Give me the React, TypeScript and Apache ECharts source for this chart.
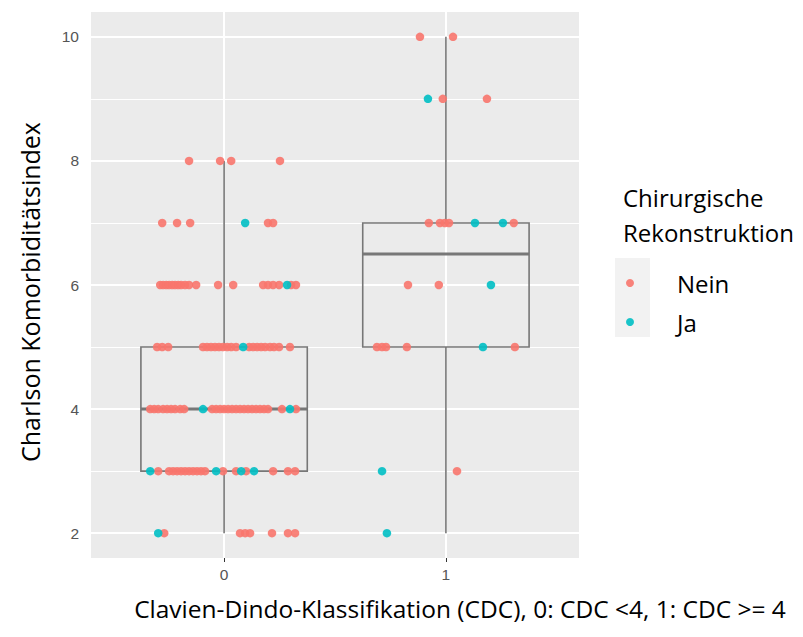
import React, { useEffect, useRef } from "react";
import * as echarts from "echarts";

const categories = ["0", "1"];
const yTicks = [2, 4, 6, 8, 10];
const yMinor = [3, 5, 7, 9];

// box stats: [x, lower whisker, Q1, median, Q3, upper whisker]
const boxStats = [
  [0, 2, 3, 4, 5, 8],
  [1, 2, 5, 6.5, 7, 10],
];

// jittered points [x, y]
const neinPoints = [
  // group 0
  [-0.158, 8], [-0.018, 8], [0.032, 8], [0.252, 8],
  [-0.279, 7], [-0.212, 7], [-0.153, 7], [0.198, 7], [0.221, 7],
  [-0.288, 6], [-0.275, 6], [-0.261, 6], [-0.248, 6], [-0.234, 6], [-0.221, 6], [-0.207, 6], [-0.194, 6], [-0.176, 6], [-0.158, 6], [-0.126, 6],
  [-0.027, 6], [0.041, 6], [0.176, 6], [0.198, 6], [0.221, 6], [0.248, 6], [0.302, 6], [0.324, 6],
  [-0.302, 5], [-0.279, 5], [-0.252, 5], [-0.095, 5], [-0.077, 5], [-0.059, 5], [-0.041, 5], [-0.023, 5], [-0.005, 5], [0.014, 5], [0.032, 5], [0.054, 5],
  [0.113, 5], [0.131, 5], [0.149, 5], [0.167, 5], [0.185, 5], [0.207, 5], [0.225, 5], [0.248, 5], [0.297, 5],
  [-0.333, 4], [-0.315, 4], [-0.297, 4], [-0.275, 4], [-0.257, 4], [-0.239, 4], [-0.221, 4], [-0.198, 4], [-0.18, 4],
  [-0.054, 4], [-0.036, 4], [-0.018, 4], [0, 4], [0.018, 4], [0.036, 4], [0.054, 4], [0.072, 4], [0.09, 4], [0.108, 4], [0.126, 4], [0.144, 4], [0.162, 4], [0.18, 4], [0.198, 4],
  [0.261, 4], [0.324, 4],
  [-0.297, 3], [-0.248, 3], [-0.23, 3], [-0.212, 3], [-0.194, 3], [-0.176, 3], [-0.158, 3], [-0.14, 3], [-0.122, 3], [-0.104, 3], [-0.086, 3],
  [-0.005, 3], [0.054, 3], [0.099, 3], [0.221, 3], [0.288, 3], [0.32, 3],
  [-0.27, 2], [0.072, 2], [0.095, 2], [0.117, 2], [0.216, 2], [0.288, 2], [0.32, 2],
  // group 1
  [0.883, 10], [1.032, 10],
  [0.986, 9], [1.185, 9],
  [0.923, 7], [0.973, 7], [0.995, 7], [1.014, 7], [1.306, 7],
  [0.829, 6], [0.968, 6],
  [0.689, 5], [0.712, 5], [0.73, 5], [0.824, 5], [1.311, 5],
  [1.05, 3],
];

const jaPoints = [
  // group 0
  [0.095, 7],
  [0.284, 6],
  [0.086, 5],
  [-0.095, 4], [0.297, 4],
  [-0.333, 3], [-0.036, 3], [0.077, 3], [0.135, 3],
  [-0.297, 2],
  // group 1
  [0.919, 9],
  [1.131, 7], [1.257, 7],
  [1.203, 6],
  [1.167, 5],
  [0.712, 3],
  [0.734, 2],
];

const seriesNames = ["Nein", "Ja"];
const legendTitle = "Chirurgische\nRekonstruktion";
const xTitle = "Clavien-Dindo-Klassifikation (CDC), 0: CDC <4, 1: CDC >= 4";
const yTitle = "Charlson Komorbiditätsindex";

const RED = "#F8766D";
const TEAL = "#00BFC4";
const BOX = "#777777";
const TITLE_FONT = "'Open Sans', 'Noto Sans', sans-serif";

export default function App() {
  const ref = useRef<HTMLDivElement>(null);

  useEffect(() => {
    if (!ref.current) return;
    const chart = echarts.init(ref.current, null, { renderer: "svg" });

    const gridLines: any[] = [];
    yTicks.forEach((v) =>
      gridLines.push({ yAxis: v, lineStyle: { width: 2 } })
    );
    yMinor.forEach((v) =>
      gridLines.push({ yAxis: v, lineStyle: { width: 1 } })
    );
    categories.forEach((_, i) =>
      gridLines.push({ xAxis: i, lineStyle: { width: 2 } })
    );

    const option: any = {
      animation: false,
      backgroundColor: "#ffffff",
      grid: {
        left: 91,
        right: 224,
        top: 12,
        bottom: 79,
        show: true,
        backgroundColor: "#EBEBEB",
        borderWidth: 0,
      },
      xAxis: {
        type: "value",
        min: -0.6,
        max: 1.6,
        axisLine: { show: false },
        splitLine: { show: false },
        axisTick: {
          show: true,
          customValues: [0, 1],
          length: 4,
          lineStyle: { color: "#333333", width: 1 },
        },
        axisLabel: {
          customValues: [0, 1],
          formatter: (v: number) => categories[Math.round(v)] ?? "",
          color: "#555555",
          fontSize: 15.5,
          fontFamily: "'Liberation Sans', Arial, sans-serif",
          margin: 8,
        },
      },
      yAxis: {
        type: "value",
        min: 1.6,
        max: 10.4,
        axisLine: { show: false },
        splitLine: { show: false },
        axisTick: {
          show: true,
          customValues: yTicks,
          length: 4,
          lineStyle: { color: "#333333", width: 1 },
        },
        axisLabel: {
          customValues: yTicks,
          color: "#555555",
          fontSize: 15.5,
          fontFamily: "'Liberation Sans', Arial, sans-serif",
          margin: 12,
        },
      },
      legend: {
        data: seriesNames,
        orient: "vertical",
        left: 621,
        top: 263,
        itemWidth: 24,
        itemHeight: 8,
        itemGap: 9,
        textStyle: {
          fontSize: 24,
          lineHeight: 30,
          fontFamily: TITLE_FONT,
          color: "#000000",
          padding: [0, 0, 0, 30],
        },
        selectedMode: false,
      },
      graphic: [
        {
          type: "rect",
          left: 615,
          top: 258,
          shape: { width: 35, height: 79 },
          style: { fill: "#F2F2F2" },
          z: -1,
        },
        {
          type: "text",
          left: 623,
          top: 180,
          style: {
            text: legendTitle,
            fontSize: 24,
            lineHeight: 35,
            fontFamily: TITLE_FONT,
            fill: "#000000",
          },
        },
        {
          type: "text",
          x: 460,
          y: 608,
          style: {
            text: xTitle,
            fontSize: 24.5,
            fontFamily: TITLE_FONT,
            fill: "#000000",
            textAlign: "center",
            textVerticalAlign: "middle",
          },
        },
        {
          type: "text",
          x: 30,
          y: 292,
          rotation: Math.PI / 2,
          style: {
            text: yTitle,
            fontSize: 25,
            fontFamily: TITLE_FONT,
            fill: "#000000",
            textAlign: "center",
            textVerticalAlign: "middle",
          },
        },
      ],
      series: [
        {
          type: "custom",
          name: "box",
          z: 2,
          data: boxStats,
          encode: { x: [0], y: [1, 2, 3, 4, 5] },
          renderItem: (params: any, api: any) => {
            const x = api.value(0);
            const lo = api.value(1);
            const q1 = api.value(2);
            const med = api.value(3);
            const q3 = api.value(4);
            const hi = api.value(5);
            const half = 0.375;
            const tl = api.coord([x - half, q3]);
            const br = api.coord([x + half, q1]);
            const m0 = api.coord([x - half, med]);
            const m1 = api.coord([x + half, med]);
            const c = api.coord([x, hi]);
            const cq3 = api.coord([x, q3]);
            const cq1 = api.coord([x, q1]);
            const cl = api.coord([x, lo]);
            const ls = { stroke: BOX, lineWidth: 1.6, fill: "none" };
            return {
              type: "group",
              children: [
                { type: "line", shape: { x1: c[0], y1: c[1], x2: cq3[0], y2: cq3[1] }, style: ls },
                { type: "line", shape: { x1: cq1[0], y1: cq1[1], x2: cl[0], y2: cl[1] }, style: ls },
                {
                  type: "rect",
                  shape: { x: tl[0], y: tl[1], width: br[0] - tl[0], height: br[1] - tl[1] },
                  style: ls,
                },
                {
                  type: "line",
                  shape: { x1: m0[0], y1: m0[1], x2: m1[0], y2: m1[1] },
                  style: { stroke: BOX, lineWidth: 3 },
                },
              ],
            };
          },
          markLine: {
            silent: true,
            z: 1,
            symbol: ["none", "none"],
            label: { show: false },
            lineStyle: { color: "#ffffff", type: "solid" },
            emphasis: { disabled: true },
            data: gridLines,
          },
        },
        {
          type: "scatter",
          name: seriesNames[0],
          z: 3,
          symbolSize: 8.5,
          itemStyle: { color: RED, opacity: 0.9 },
          data: neinPoints,
        },
        {
          type: "scatter",
          name: seriesNames[1],
          z: 4,
          symbolSize: 8.5,
          itemStyle: { color: TEAL, opacity: 0.9 },
          data: jaPoints,
        },
      ],
    };

    chart.setOption(option);
    return () => chart.dispose();
  }, []);

  return (
    <div
      ref={ref}
      style={{ position: "fixed", left: 0, top: 0, width: 803, height: 637 }}
    />
  );
}
